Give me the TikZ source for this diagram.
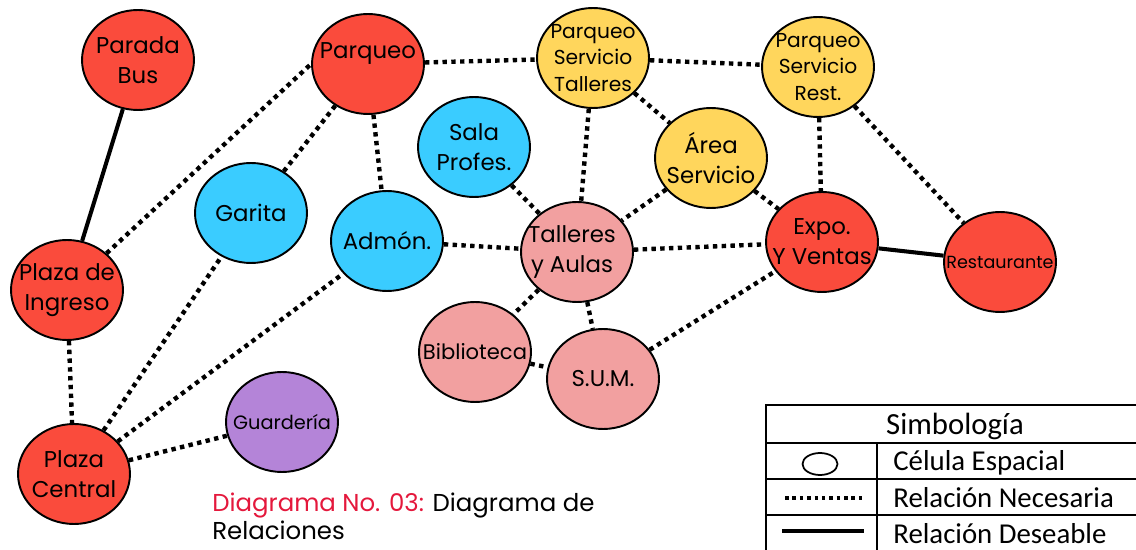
\documentclass[tikz,border=0pt]{standalone}
\usepackage{fontspec}
\setmainfont{Poppins}
\newfontfamily\leyendafont{Carlito}
\usetikzlibrary{shapes.geometric}

\definecolor{rojo}{RGB}{250,75,60}
\definecolor{celeste}{RGB}{58,204,255}
\definecolor{amarillo}{RGB}{255,214,92}
\definecolor{rosado}{RGB}{242,160,160}
\definecolor{morado}{RGB}{180,132,216}
\definecolor{carmesi}{RGB}{228,24,60}

\tikzset{
  celda/.style={ellipse, draw=black, line width=1.1pt,
    minimum width=2.24cm, minimum height=2cm, inner sep=0pt},
  texto/.style={align=center, font=\fontsize{13}{17}\selectfont},
  textotres/.style={align=center, font=\fontsize{11.5}{15.3}\selectfont},
  textochico/.style={font=\fontsize{10}{12}\selectfont},
  necesaria/.style={line width=2.5pt, dash pattern=on 2.5pt off 2.5pt},
  deseable/.style={line width=2.3pt},
  tabla/.style={line width=1pt},
  leyenda/.style={inner sep=0pt, font=\leyendafont\fontsize{16.4}{19}\selectfont},
}

\begin{document}
\begin{tikzpicture}[x=0.02cm, y=-0.02cm]

    \useasboundingbox (0,0) rectangle (1136,550);

    % ==================================================
    % Células espaciales
    % ==================================================

    % acceso
    \node[celda, fill=rojo, label={[texto]center:Parada\\Bus}] (pbus) at (138,60) {};
    \node[celda, fill=rojo, label={[texto]center:Plaza de\\Ingreso}] (pingreso) at (67,290) {};
    \node[celda, fill=rojo, label={[texto]center:Plaza\\Central}] (pcentral) at (74,474) {};
    \node[celda, fill=morado, label={[textochico, font=\fontsize{11}{13}\selectfont]center:Guardería}] (guarderia) at (282,422) {};

    % parqueos
    \node[celda, fill=rojo, label={[texto, yshift=0.2cm]center:Parqueo}] (parqueo) at (368,64) {};
    \node[celda, fill=amarillo, label={[textotres]center:Parqueo\\Servicio\\Talleres}] (pst) at (593,58) {};
    \node[celda, fill=amarillo, label={[textotres]center:Parqueo\\Servicio\\Rest.}] (psr) at (818,67) {};

    % administración
    \node[celda, fill=celeste, label={[texto]center:Garita}] (garita) at (251,213) {};
    \node[celda, fill=celeste, label={[texto]center:Admón.}] (admon) at (387,241) {};
    \node[celda, fill=celeste, label={[texto]center:Sala\\Profes.}] (sala) at (474,147) {};

    % talleres
    \node[celda, fill=rosado, label={[texto, xshift=-0.1cm]center:Talleres\\y Aulas}] (talleres) at (577,252) {};
    \node[celda, fill=rosado, label={[texto, font=\fontsize{12}{14}\selectfont]center:Biblioteca}] (biblio) at (475,352) {};
    \node[celda, fill=rosado, label={[texto]center:S.U.M.}] (sum) at (603,379) {};

    % servicio y ventas
    \node[celda, fill=amarillo, label={[texto]center:Área\\Servicio}] (area) at (711,158) {};
    \node[celda, fill=rojo, label={[texto]center:Expo.\\Y Ventas}] (expo) at (822,242) {};
    \node[celda, fill=rojo, label={[textochico]center:Restaurante}] (rest) at (1000,262) {};

    % ==================================================
    % Relaciones
    % ==================================================

    % deseables
    \draw[deseable] (pbus) -- (pingreso);
    \draw[deseable] (expo) -- (rest);

    % necesarias
    \draw[necesaria] (pingreso) -- (parqueo.west);
    \draw[necesaria] (pingreso) -- (pcentral);
    \draw[necesaria] (pcentral) -- (garita);
    \draw[necesaria] (pcentral) -- (admon);
    \draw[necesaria] (pcentral) -- (guarderia);
    \draw[necesaria] (parqueo) -- (garita);
    \draw[necesaria] (parqueo) -- (admon);
    \draw[necesaria] (parqueo) -- (pst);
    \draw[necesaria] (pst) -- (psr);
    \draw[necesaria] (pst) -- (talleres);
    \draw[necesaria] (pst) -- (area);
    \draw[necesaria] (psr) -- (expo);
    \draw[necesaria] (psr) -- (rest);
    \draw[necesaria] (area) -- (talleres);
    \draw[necesaria] (area) -- (expo);
    \draw[necesaria] (sala) -- (talleres);
    \draw[necesaria] (admon) -- (talleres);
    \draw[necesaria] (talleres) -- (expo);
    \draw[necesaria] (talleres) -- (biblio);
    \draw[necesaria] (talleres) -- (sum);
    \draw[necesaria] (biblio) -- (sum);
    \draw[necesaria] (sum) -- (expo);

    % ==================================================
    % Título
    % ==================================================

    \node[anchor=north west, inner sep=0pt, align=left,
      font=\fontsize{13.9}{15.5}\selectfont] (titulo) at (212,493)
      {\textcolor{carmesi}{Diagrama No. 03:} Diagrama de\\Relaciones};

    % ==================================================
    % Simbología
    % ==================================================

    % cuadro
    \draw[tabla] (1140,405) -- (766,405) -- (766,552);
    \draw[tabla] (766,443) -- (1140,443);
    \draw[tabla] (766,479) -- (1140,479);
    \draw[tabla] (766,515) -- (1140,515);
    \draw[tabla] (877,443) -- (877,552);

    % encabezado
    \node[leyenda, anchor=base, font=\leyendafont\fontsize{17.5}{20}\selectfont] (simbologia) at (955,435) {Simbología};

    % célula
    \draw[line width=1pt] (820,464) ellipse [x radius=0.35cm, y radius=0.22cm];
    \node[leyenda, anchor=base west] (lcelula) at (893,470) {Célula Espacial};

    % relación necesaria
    \draw[line width=2pt, dash pattern=on 2pt off 2.2pt] (785,498) -- (863,498);
    \node[leyenda, anchor=base west] (lnecesaria) at (893,507) {Relación Necesaria};

    % relación deseable
    \draw[line width=2.5pt] (782,531) -- (864,531);
    \node[leyenda, anchor=base west] (ldeseable) at (893,543) {Relación Deseable};

  \end{tikzpicture}
\end{document}
